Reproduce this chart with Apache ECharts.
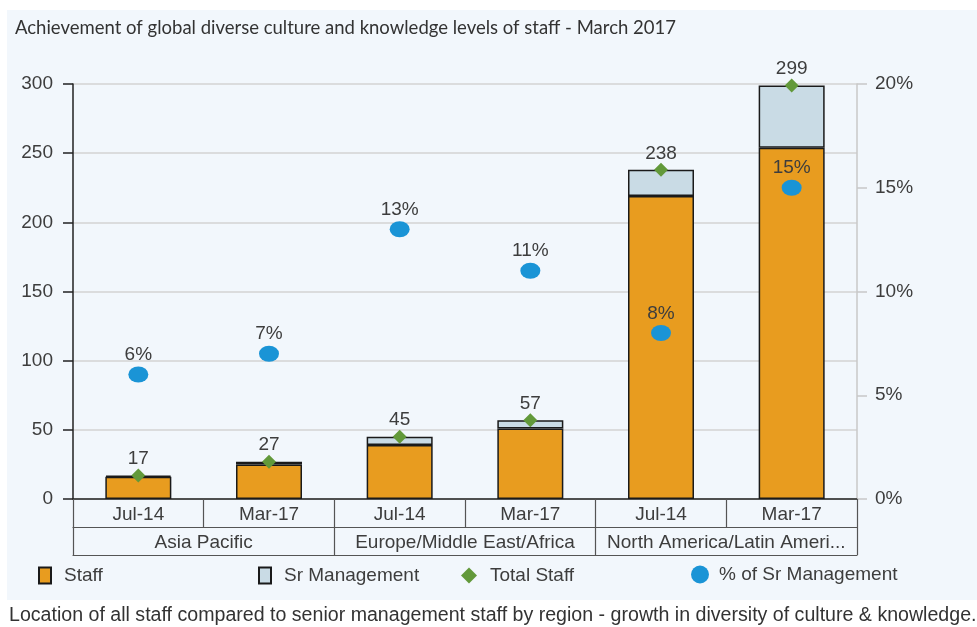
<!DOCTYPE html>
<html>
<head>
<meta charset="utf-8">
<script src="https://cdn.jsdelivr.net/npm/echarts@6/dist/echarts.min.js"></script>
<style>
  html, body { margin: 0; padding: 0; background: #fff; }
  #chart { width: 977px; height: 627px; }
</style>
</head>
<body>
<div id="chart"></div>
<script>
// 数据
const periods = ['Jul-14', 'Mar-17', 'Jul-14', 'Mar-17', 'Jul-14', 'Mar-17']
const regions = ['Asia Pacific', 'Europe/Middle East/Africa', 'North America/Latin Ameri...']
const staff = [16, 25, 39, 51, 219, 254]
const srManagement = [1, 2, 6, 6, 19, 45]
const totalStaff = [17, 27, 45, 57, 238, 299]
const pctSrManagement = [6, 7, 13, 11, 8, 15]

const txt = '#3d3d3d'
const font = '"Liberation Sans", Arial, sans-serif'
const legendText = { fontFamily: font, fontSize: 19, color: txt, padding: [0, 0, 0, 8] }

const chart = echarts.init(document.getElementById('chart'))

const option = {
    backgroundColor: '#fff',
    animation: false,
    title: {
        text: 'Achievement of global diverse culture and knowledge levels of staff - March 2017',
        left: 10,
        top: 14,
        textStyle: { fontFamily: 'Lato', fontSize: 18.5, fontWeight: 'normal', color: '#333' }
    },
    graphic: [
        {
            type: 'rect', z: -100, silent: true,
            shape: { x: 7, y: 10, width: 970, height: 590 },
            style: { fill: '#f2f7fc' }
        },
        {
            type: 'text', left: 9, top: 606,
            style: {
                text: 'Location of all staff compared to senior management staff by region - growth in diversity of culture & knowledge.',
                fontFamily: font, fontSize: 19.6, fill: '#333'
            }
        }
    ],
    legend: [
        { left: 33, top: 561, itemWidth: 12, itemHeight: 16, icon: 'rect',
          data: ['Staff'], textStyle: legendText },
        { left: 253, top: 561, itemWidth: 12, itemHeight: 16, icon: 'rect',
          data: ['Sr Management'], textStyle: legendText },
        { left: 456, top: 561, itemWidth: 16, itemHeight: 16, icon: 'diamond',
          data: ['Total Staff'], textStyle: legendText },
        { left: 686, top: 560, itemWidth: 18, itemHeight: 18, icon: 'circle',
          data: ['% of Sr Management'], textStyle: { ...legendText, padding: [0, 0, 0, 5] } }
    ],
    grid: { left: 73, right: 120, top: 84, bottom: 128, containLabel: false },
    xAxis: [
        {
            type: 'category', data: periods, position: 'bottom',
            axisLine: { onZero: false, lineStyle: { color: '#222', width: 1.5 } },
            axisTick: { show: true, length: 28, interval: 0, lineStyle: { color: '#555', width: 1.2 } },
            axisLabel: { interval: 0, margin: 6, fontFamily: font, fontSize: 19, color: txt }
        },
        {
            type: 'category', data: regions, position: 'bottom', offset: 28,
            axisLine: { onZero: false, lineStyle: { color: '#555', width: 1.2 } },
            axisTick: { show: true, length: 28, interval: 0, lineStyle: { color: '#555', width: 1.2 } },
            axisLabel: { interval: 0, margin: 6, fontFamily: font, fontSize: 19, color: txt }
        },
        {
            type: 'category', data: regions, position: 'bottom', offset: 56,
            axisLine: { onZero: false, lineStyle: { color: '#555', width: 1.2 } },
            axisTick: { show: false },
            axisLabel: { show: false }
        }
    ],
    yAxis: [
        {
            type: 'value', min: 0, max: 300, interval: 50,
            axisLine: { show: true, lineStyle: { color: '#222', width: 1.5 } },
            axisTick: { show: true, length: 10, lineStyle: { color: '#222', width: 1.5 } },
            axisLabel: { margin: 20, fontFamily: font, fontSize: 19, color: txt },
            splitLine: { lineStyle: { color: '#d3d3d3', width: 1.5 } }
        },
        {
            type: 'value', min: 0, max: 20, interval: 5, position: 'right',
            axisLine: { show: true, lineStyle: { color: '#c8c8c8', width: 1.5 } },
            axisTick: { show: true, length: 10, lineStyle: { color: '#c8c8c8', width: 1.5 } },
            axisLabel: { margin: 18, formatter: '{value}%', fontFamily: font, fontSize: 19, color: txt },
            splitLine: { show: false }
        }
    ],
    series: [
        {
            name: 'Staff', type: 'bar', stack: 'all', barWidth: 66,
            itemStyle: { color: '#e89c1f', borderColor: '#1a1a1a', borderWidth: 1.5 },
            data: staff
        },
        {
            name: 'Sr Management', type: 'bar', stack: 'all', barWidth: 66,
            itemStyle: { color: '#c9dbe5', borderColor: '#1a1a1a', borderWidth: 1.5 },
            data: srManagement
        },
        {
            name: 'Total Staff', type: 'scatter', symbol: 'diamond', symbolSize: 14,
            itemStyle: { color: '#62993a', opacity: 1 },
            label: { show: true, position: 'top', distance: 0, fontFamily: font, fontSize: 19, color: txt },
            data: totalStaff
        },
        {
            name: '% of Sr Management', type: 'scatter', yAxisIndex: 1,
            symbol: 'circle', symbolSize: [20, 16],
            itemStyle: { color: '#1a94d6', opacity: 1 },
            label: { show: true, position: 'top', distance: 2, formatter: '{c}%', fontFamily: font, fontSize: 19, color: txt },
            data: pctSrManagement
        }
    ]
}
chart.setOption(option)
</script>
</body>
</html>
